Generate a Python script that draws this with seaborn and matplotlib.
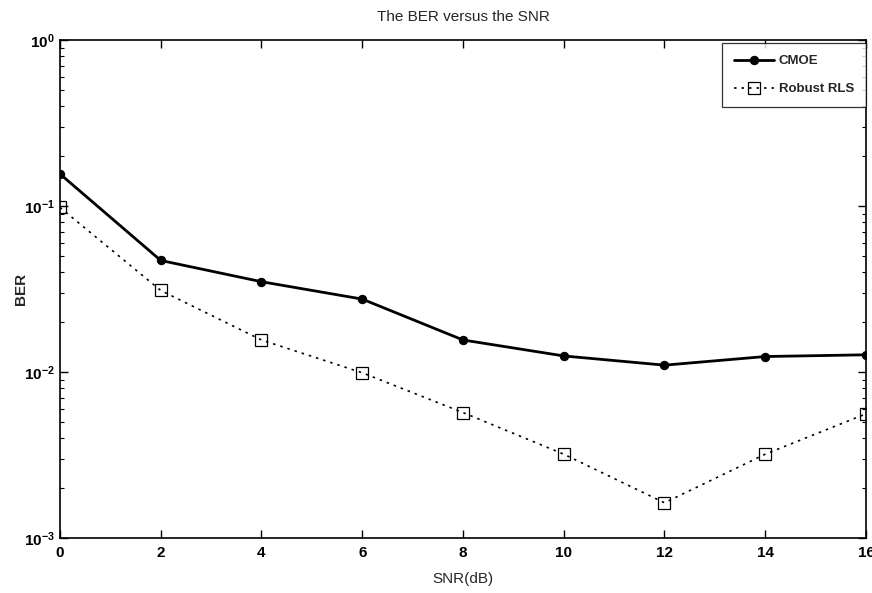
import matplotlib
matplotlib.use("Agg")
import matplotlib.pyplot as plt
import seaborn as sns
import pandas as pd
from matplotlib.ticker import LogLocator, FixedLocator

snr_db = [0, 2, 4, 6, 8, 10, 12, 14, 16]
ber_cmoe = [0.156, 0.047, 0.035, 0.0275, 0.0156, 0.0125, 0.011, 0.0124, 0.0127]
ber_rls = [0.098, 0.031, 0.0156, 0.0099, 0.0057, 0.0032, 0.00163, 0.0032, 0.0056]
series_names = ["CMOE", "Robust RLS"]

df = pd.DataFrame({
    "SNR": snr_db * 2,
    "BER": ber_cmoe + ber_rls,
    "method": [series_names[0]] * len(snr_db) + [series_names[1]] * len(snr_db),
})

sns.set_theme(style="ticks")
plt.rcParams["font.family"] = ["Liberation Sans Narrow", "Liberation Sans", "DejaVu Sans"]

fig = plt.figure(figsize=(8.72, 5.93), dpi=100)
ax = fig.add_axes([0.0688, 0.0927, 0.9243, 0.8398])

sns.lineplot(data=df[df.method == "CMOE"], x="SNR", y="BER", ax=ax,
             color="black", linewidth=2.0, marker="o", markersize=6,
             markeredgecolor="black", markerfacecolor="black", label="CMOE")
sns.lineplot(data=df[df.method == "Robust RLS"], x="SNR", y="BER", ax=ax,
             color="black", linewidth=1.2, linestyle=(0, (1.5, 3)), marker="s",
             markersize=8, markerfacecolor="none", markeredgecolor="black",
             markeredgewidth=0.9, label="Robust RLS")

ax.set_yscale("log")
ax.set_xlim(0, 16)
ax.set_ylim(1e-3, 1)
ax.xaxis.set_major_locator(FixedLocator(snr_db))
ax.set_xticklabels([str(v) for v in snr_db], fontsize=11, fontweight="bold")
ax.yaxis.set_major_locator(LogLocator(base=10, numticks=10))
ax.yaxis.set_minor_locator(LogLocator(base=10, subs=range(2, 10), numticks=10))
for lab in ax.get_yticklabels():
    lab.set_fontsize(11)
    lab.set_fontweight("bold")

ax.tick_params(which="both", direction="in", top=True, right=True, colors="black")
ax.tick_params(axis="x", which="major", pad=6)
ax.tick_params(which="major", length=6, width=1.0)
ax.tick_params(which="minor", length=3, width=0.8)
for s in ax.spines.values():
    s.set_color("black")
    s.set_linewidth(1.2)

ax.set_title("The BER versus the SNR", fontsize=11, pad=14)
ax.set_xlabel("SNR(dB)", fontsize=11)
ax.xaxis.set_label_coords(0.5, -0.068)
ax.set_ylabel("BER", fontsize=11, fontweight="bold")
ax.yaxis.set_label_coords(-0.04, 0.5)

leg = ax.legend(loc="upper right", bbox_to_anchor=(1.0, 0.994), frameon=True,
                fancybox=False, handlelength=3, borderaxespad=0.0,
                labelspacing=1.2, borderpad=0.9, handletextpad=0.4,
                prop={"weight": "bold", "size": 9.5})
leg.get_frame().set_edgecolor("black")
leg.get_frame().set_linewidth(0.9)

fig.savefig("out.png", dpi=100, facecolor="white")
